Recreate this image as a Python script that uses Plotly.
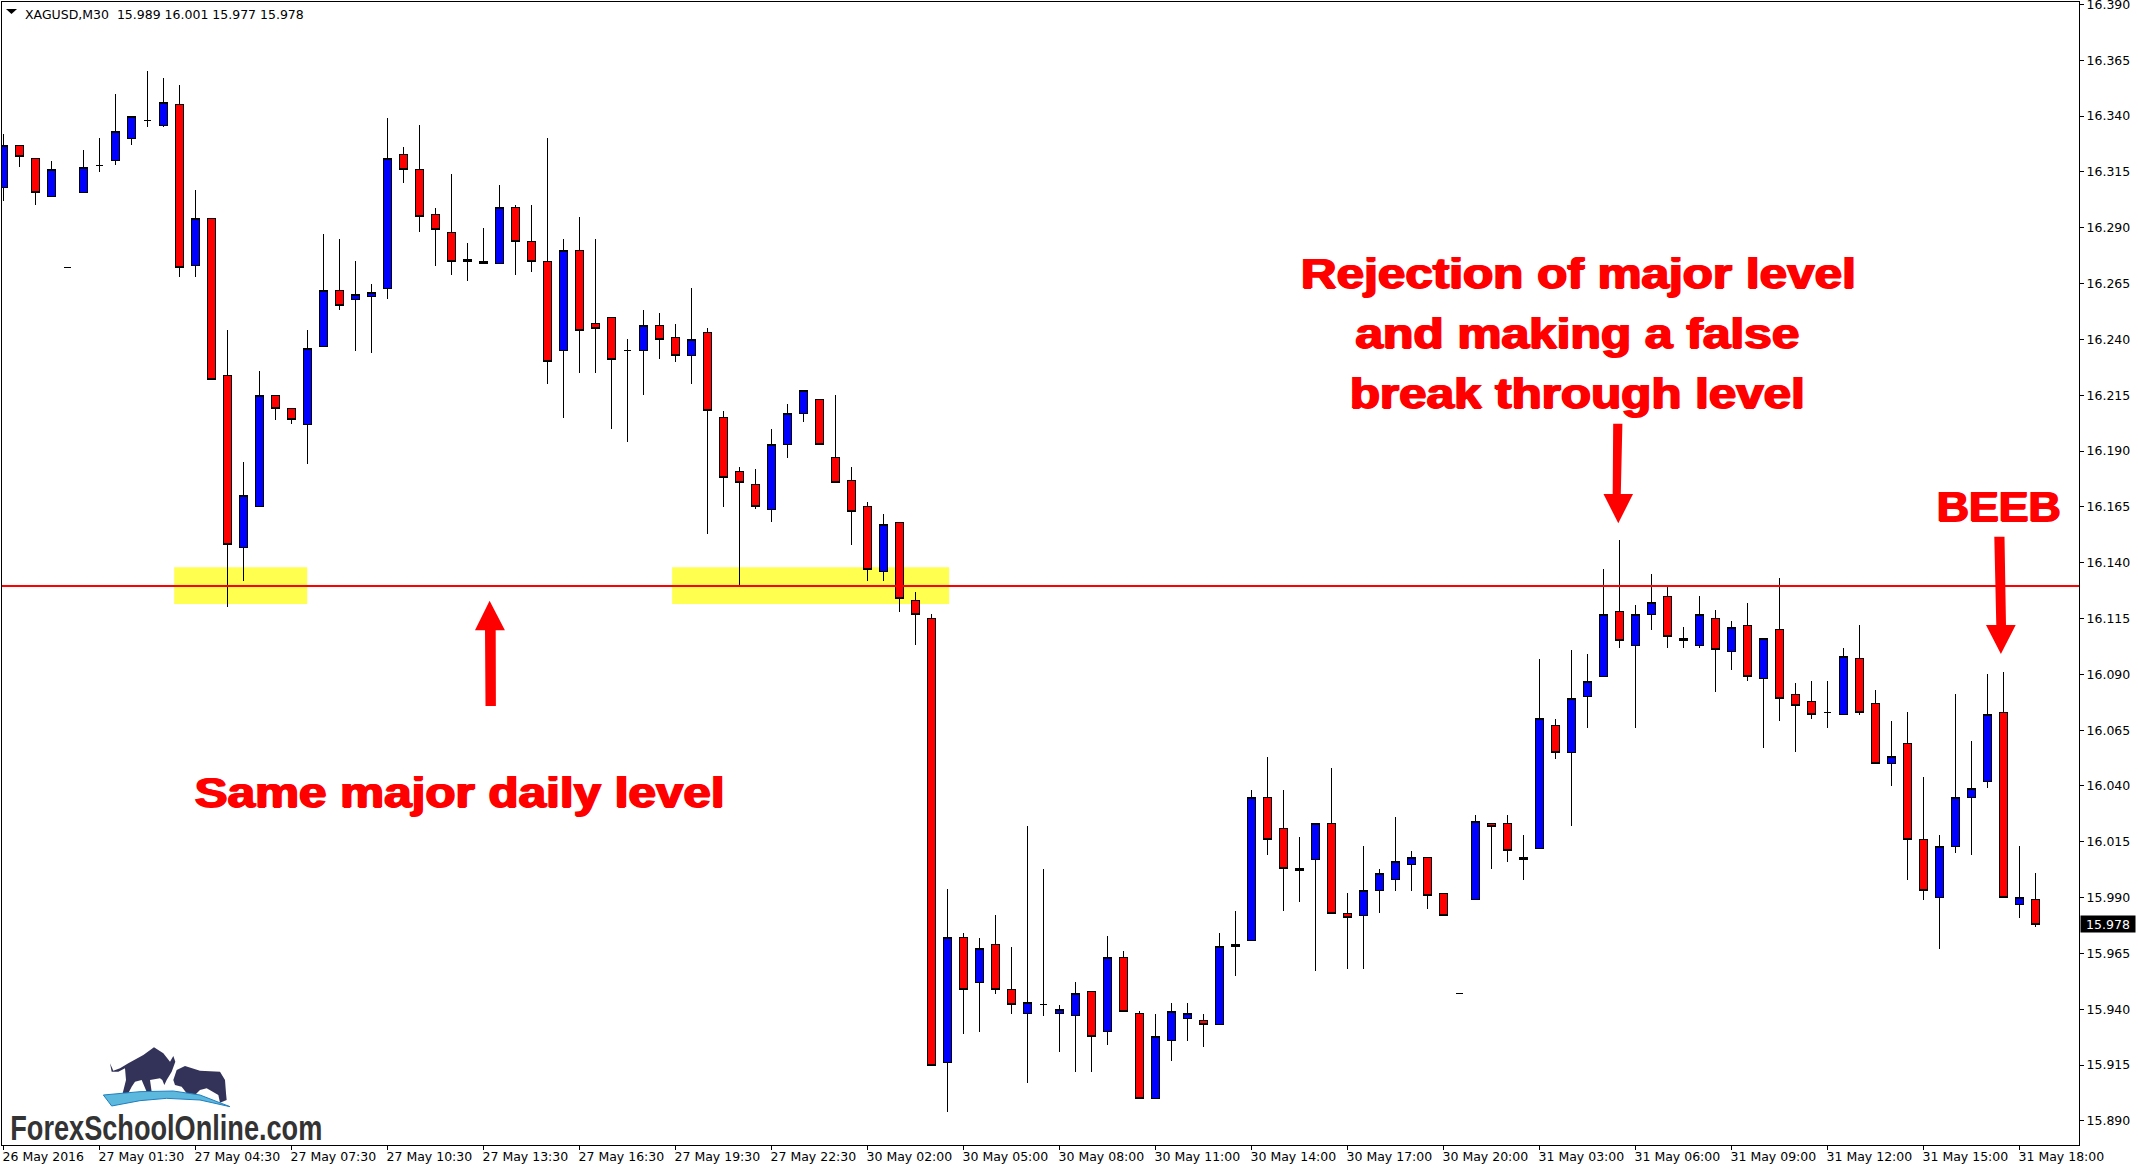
import json
import plotly.graph_objects as go

W, H = 2138, 1171
opens = [16.308,16.327,16.321,16.304,16.272,16.306,16.318,16.320,16.330,16.338,16.336,16.345,16.273,16.294,16.224,16.147,
16.165,16.215,16.209,16.202,16.237,16.262,16.258,16.259,16.263,16.323,16.316,16.296,16.288,16.276,16.274,16.274,
16.299,16.284,16.275,16.235,16.280,16.247,16.250,16.235,16.235,16.246,16.241,16.233,16.243,16.205,16.181,16.175,
16.164,16.193,16.207,16.213,16.187,16.177,16.165,16.136,16.158,16.123,16.115,15.916,15.972,15.952,15.969,15.949,
15.938,15.942,15.938,15.937,15.948,15.930,15.963,15.938,15.900,15.926,15.936,15.935,15.933,15.968,15.971,16.035,
16.021,16.003,16.007,16.023,15.983,15.982,15.993,15.998,16.005,16.008,15.992,15.947,15.989,16.023,16.023,16.007,
16.012,16.067,16.055,16.080,16.089,16.118,16.103,16.117,16.125,16.106,16.103,16.115,16.100,16.112,16.088,16.110,
16.081,16.078,16.073,16.072,16.097,16.077,16.050,16.059,16.016,15.990,16.013,16.035,16.042,16.073,15.987,15.989]
highs = [16.332,16.327,16.321,16.320,16.272,16.325,16.330,16.350,16.340,16.360,16.357,16.354,16.307,16.294,16.244,16.185,
16.226,16.215,16.209,16.244,16.287,16.285,16.275,16.265,16.339,16.326,16.336,16.299,16.314,16.283,16.290,16.309,
16.300,16.300,16.330,16.285,16.295,16.285,16.250,16.240,16.253,16.252,16.247,16.263,16.245,16.208,16.183,16.182,
16.200,16.211,16.217,16.213,16.215,16.183,16.167,16.162,16.158,16.127,16.117,15.994,15.974,15.972,15.982,15.968,
16.022,16.003,15.942,15.952,15.948,15.973,15.966,15.939,15.938,15.943,15.943,15.938,15.974,15.984,16.038,16.053,
16.038,16.017,16.023,16.048,15.992,16.013,16.003,16.026,16.011,16.008,15.992,15.947,16.027,16.023,16.027,16.018,
16.097,16.070,16.101,16.099,16.137,16.150,16.121,16.135,16.130,16.111,16.125,16.119,16.114,16.122,16.106,16.133,
16.086,16.087,16.087,16.102,16.112,16.083,16.069,16.073,16.044,16.018,16.081,16.060,16.090,16.091,16.013,16.001]
lows = [16.302,16.317,16.300,16.304,16.272,16.306,16.315,16.318,16.327,16.335,16.335,16.268,16.268,16.222,16.120,16.132,
16.165,16.204,16.202,16.184,16.237,16.253,16.235,16.234,16.258,16.310,16.288,16.273,16.269,16.266,16.274,16.274,
16.269,16.270,16.220,16.205,16.225,16.225,16.200,16.194,16.215,16.231,16.230,16.220,16.153,16.165,16.130,16.164,
16.158,16.187,16.203,16.193,16.176,16.148,16.132,16.132,16.118,16.103,15.915,15.894,15.929,15.930,15.947,15.938,
15.907,15.937,15.921,15.912,15.912,15.924,15.939,15.900,15.900,15.917,15.926,15.923,15.933,15.955,15.971,16.009,
15.984,15.988,15.957,15.983,15.958,15.958,15.983,15.993,15.993,15.985,15.982,15.947,15.989,16.003,16.006,15.998,
16.012,16.052,16.022,16.066,16.089,16.102,16.066,16.110,16.102,16.102,16.102,16.082,16.092,16.087,16.057,16.069,
16.055,16.070,16.066,16.072,16.072,16.050,16.040,15.998,15.989,15.967,16.010,16.009,16.039,15.990,15.981,15.977]
closes = [16.327,16.322,16.306,16.316,16.272,16.317,16.318,16.333,16.340,16.338,16.346,16.272,16.294,16.222,16.148,16.170,
16.215,16.209,16.204,16.236,16.262,16.255,16.260,16.261,16.321,16.316,16.295,16.289,16.275,16.275,16.275,16.299,
16.284,16.275,16.230,16.280,16.244,16.245,16.231,16.235,16.246,16.240,16.233,16.240,16.208,16.178,16.176,16.165,
16.193,16.207,16.217,16.193,16.176,16.163,16.137,16.157,16.124,16.117,15.915,15.972,15.949,15.967,15.949,15.942,
15.943,15.942,15.940,15.947,15.928,15.963,15.939,15.900,15.928,15.939,15.938,15.933,15.968,15.969,16.035,16.016,
16.003,16.002,16.023,15.983,15.981,15.993,16.001,16.006,16.008,15.991,15.982,15.947,16.024,16.022,16.011,16.008,
16.070,16.055,16.079,16.087,16.117,16.105,16.117,16.122,16.107,16.105,16.117,16.101,16.111,16.089,16.106,16.079,
16.076,16.072,16.073,16.098,16.073,16.050,16.053,16.016,15.993,16.013,16.035,16.039,16.072,15.990,15.990,15.978]

x_tick_labels = ["26 May 2016","27 May 01:30","27 May 04:30","27 May 07:30","27 May 10:30","27 May 13:30",
"27 May 16:30","27 May 19:30","27 May 22:30","30 May 02:00","30 May 05:00","30 May 08:00","30 May 11:00",
"30 May 14:00","30 May 17:00","30 May 20:00","31 May 03:00","31 May 06:00","31 May 09:00","31 May 12:00",
"31 May 15:00","31 May 18:00"]
x_tick_bars = [0,6,12,18,24,30,36,42,48,54,60,66,72,78,84,90,96,102,108,114,120,126]
y_ticks = [16.390,16.365,16.340,16.315,16.290,16.265,16.240,16.215,16.190,16.165,16.140,16.115,16.090,16.065,
16.040,16.015,15.990,15.965,15.940,15.915,15.890]
y_tick_labels = ["16.390","16.365","16.340","16.315","16.290","16.265","16.240","16.215","16.190","16.165","16.140",
"16.115","16.090","16.065","16.040","16.015","15.990","15.965","15.940","15.915","15.890"]
level_price = 16.12955
last_price = 15.978
bars = list(range(len(opens)))

ML, MR, MT, MB = 2, 59, 2, 26
FONT = "DejaVu Sans"

def px(x, y):
    return (x - ML) / (W - ML - MR), 1 - (y - MT) / (H - MT - MB)

def path(points):
    out = []
    for i, (x, y) in enumerate(points):
        a, b = px(x, y)
        out.append(("M" if i == 0 else "L") + f"{a:.5f},{b:.5f}")
    return " ".join(out) + " Z"

fig = go.Figure(go.Candlestick(
    x=bars, open=opens, high=highs, low=lows, close=closes,
    increasing=dict(fillcolor="#0000ff", line=dict(color="#000000", width=1)),
    decreasing=dict(fillcolor="#ff0000", line=dict(color="#000000", width=1)),
    whiskerwidth=0, showlegend=False, hoverinfo="skip"))

shapes = [
    dict(type="rect", layer="below", x0=10.67, x1=18.98, y0=16.1215, y1=16.138, fillcolor="#ffff50", line_width=0),
    dict(type="rect", layer="below", x0=41.79, x1=59.1, y0=16.1215, y1=16.138, fillcolor="#ffff50", line_width=0),
    dict(type="line", layer="above", xref="paper", x0=0, x1=1, y0=level_price, y1=level_price,
         line=dict(color="#ff0000", width=2)),
]
arrows = [
    [(489.6,600.7),(504.9,630.3),(495.7,630.3),(495.9,706),(485.5,706),(485,630.3),(475,630.3)],
    [(1613.2,423.7),(1622.4,423.7),(1620.8,494),(1633,494),(1618.3,523.3),(1603.5,494),(1612.7,494)],
    [(1994.3,536.7),(2004.5,536.7),(2006,625),(2015.7,625),(2000.9,654),(1986,625),(1996.3,625)],
]
for a in arrows:
    shapes.append(dict(type="path", xref="paper", yref="paper", path=path(a), fillcolor="#ff0000", line_width=0, layer="above"))

# header triangle
shapes.append(dict(type="path", xref="paper", yref="paper", path=path([(6,9),(17,9),(11.5,14)]), fillcolor="#000000", line_width=0))

# logo
def z(pts):
    return [(p[0]/3, 1030 + p[1]/3) for p in pts]
bull = z([(330,100),(340,122),(360,115),(385,100),(430,75),(462,52),(490,70),(510,95),(520,78),(526,95),(515,125),(500,150),
          (493,165),(487,150),(480,145),(450,150),(455,185),(440,185),(425,150),(405,155),(395,170),(385,190),(368,190),
          (378,150),(375,115),(355,125),(335,125)])
bear = z([(520,150),(530,120),(555,108),(600,122),(660,125),(675,150),(678,190),(680,210),(660,218),(655,195),(620,175),
          (600,180),(585,195),(560,190),(545,170),(525,165)])
swoosh = z([(310,195),(420,185),(520,183),(600,195),(690,230),(600,210),(500,205),(420,212),(335,228)])
shapes += [
    dict(type="path", xref="paper", yref="paper", path=path(bull), fillcolor="#33335a", line_width=0),
    dict(type="path", xref="paper", yref="paper", path=path(bear), fillcolor="#33335a", line_width=0),
    dict(type="path", xref="paper", yref="paper", path=path(swoosh), fillcolor="#5cb8dc", line=dict(color="#1f7fc0", width=1)),
]

RED_SHADOW = "1px 0 0 #ff0000, -1px 0 0 #ff0000, 0 1px 0 #ff0000"
def note(text, x, y, size=43, color="#ff0000", family="Liberation Sans", shadow=RED_SHADOW):
    a, b = px(x, y)
    return dict(xref="paper", yref="paper", x=a, y=b, text=text, showarrow=False, xanchor="center", yanchor="middle",
                font=dict(family=family, size=size, color=color, weight="bold", shadow=shadow))

annotations = [
    note("Rejection of major level", 1578, 273),
    note("and making a false", 1577.5, 333),
    note("break through level", 1577, 393),
    note("BEEB", 1998.5, 506),
    note("Same major daily level", 459, 792),
    note("ForexSchoolOnline.com", 166.7, 1127, size=35, color="#333333", shadow="none"),
    dict(xref="paper", yref="paper", x=px(22.5,14)[0], y=px(22.5,14)[1], xanchor="left", yanchor="middle", showarrow=False,
         text="XAGUSD,M30  15.989 16.001 15.977 15.978", font=dict(family=FONT, size=12.5, color="#000000")),
    dict(xref="paper", yref="y", x=1, y=last_price, xanchor="left", yanchor="middle", xshift=1, showarrow=False,
         text="15.978", width=54, height=16, align="center", bgcolor="#000000", borderpad=0,
         font=dict(family=FONT, size=12.5, color="#ffffff")),
]

axis_font = dict(family=FONT, size=12.5, color="#000000")
X0 = -1.5 / 16
fig.update_layout(
    width=W, height=H, autosize=False,
    margin=dict(l=ML, r=MR, t=MT, b=MB, pad=0, autoexpand=False),
    paper_bgcolor="#ffffff", plot_bgcolor="#ffffff", showlegend=False,
    shapes=shapes, annotations=annotations,
    xaxis=dict(range=[X0, X0 + (W - ML - MR) / 16], rangeslider=dict(visible=False), showgrid=False, zeroline=False,
               tickmode="array", tickvals=x_tick_bars, ticktext=x_tick_labels, ticks="outside", ticklen=4,
               tickwidth=1, tickcolor="#000000", tickfont=axis_font, ticklabelposition="outside right",
               ticklabelshift=-2, automargin=False,
               showline=True, linecolor="#000000", linewidth=1, mirror=True),
    yaxis=dict(range=[15.8792, 16.3911], side="right", showgrid=False, zeroline=False,
               tickmode="array", tickvals=y_ticks, ticktext=y_tick_labels, ticks="outside", ticklen=4,
               tickwidth=1, tickcolor="#000000", tickfont=axis_font, ticklabeloverflow="allow", automargin=False,
               showline=True, linecolor="#000000", linewidth=1, mirror=True),
)

text_widths = {"Rejection of major level": 555, "and making a false": 444, "break through level": 455,
               "BEEB": 124, "Same major daily level": 530, "ForexSchoolOnline.com": 312}
post = ("document.body.style.margin='0';"
        "var w=" + json.dumps(text_widths) + ";"
        "document.querySelectorAll('.annotation-text').forEach(function(t){"
        "var n=w[t.textContent];if(n){t.setAttribute('textLength',n);t.setAttribute('lengthAdjust','spacingAndGlyphs');}});"
        "document.querySelectorAll('.boxlayer path').forEach(function(p){p.style.shapeRendering='crispEdges';});")
fig.write_html("out.html", config={"displayModeBar": False}, post_script=post)
